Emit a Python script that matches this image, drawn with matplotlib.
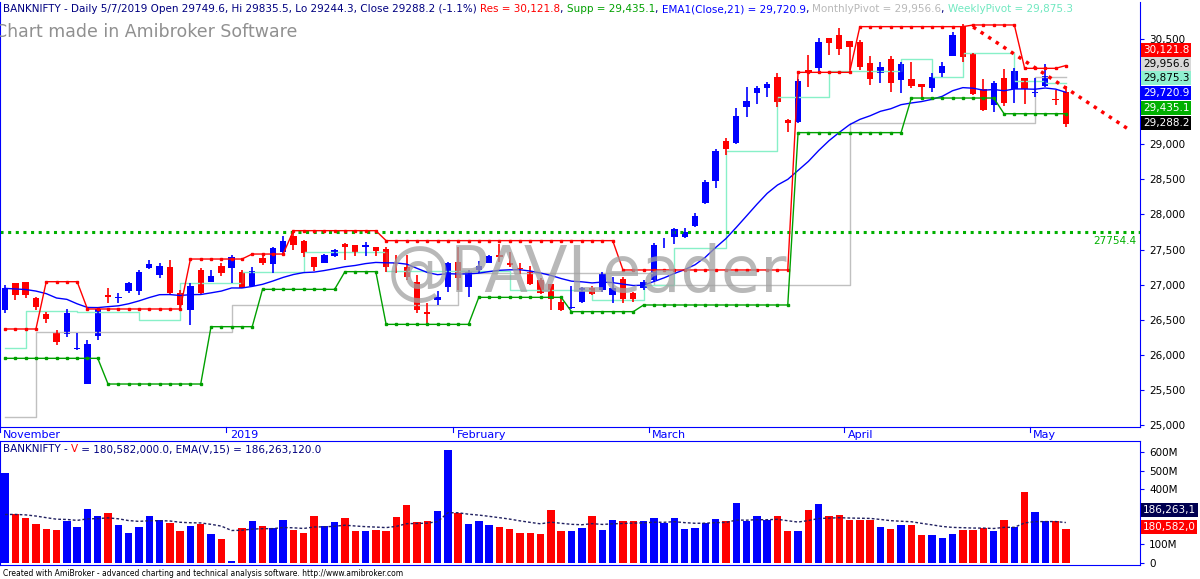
import matplotlib
matplotlib.use("Agg")
import matplotlib.pyplot as plt
import numpy as np
import pandas as pd

# ================================
# %% Data
# ++++++++++++++++++++++++++++++++

opens = [26639, 27019, 27042, 26805, 26582, 26330, 26296, 26083, 25584, 26273,
         26852, 26810, 26914, 26909, 27232, 27137, 27256, 26876, 26639, 27208,
         27042, 27265, 27232, 27185, 26980, 27375, 27294, 27470, 27700, 27620,
         27389, 27313, 27408, 27579, 27565, 27531, 27531, 27503, 27313, 27256,
         27042, 26615, 26781, 26971, 27327, 26971, 27208, 27313, 27422, 27304,
         27232, 27185, 27066, 27009, 26757, 26663, 26757, 26947, 26924, 26852,
         27076, 26876, 26947, 27066, 27620, 27674, 27683, 27836, 28158, 28481,
         29052, 29014, 29536, 29726, 29797, 29954, 29346, 29322, 30059, 30082,
         30510, 30557, 30476, 30462, 30163, 30021, 30210, 29916, 29926, 29859,
         29797, 30011, 30258, 30686, 30296, 29783, 29560, 29940, 29783, 29940,
         29735, 29831, 29640, 29749.6]
closes = [26947, 26852, 26852, 26686, 26506, 26187, 26600, 26092, 26154, 26653,
          26819, 26820, 27019, 27175, 27294, 27265, 26876, 26710, 26980, 26876,
          27123, 27161, 27398, 26947, 27199, 27303, 27517, 27620, 27560, 27446,
          27246, 27422, 27493, 27531, 27456, 27565, 27484, 27256, 27294, 27114,
          26639, 26582, 26829, 27304, 27090, 27185, 27265, 27408, 27389, 27280,
          27218, 27009, 26886, 26791, 26639, 26677, 26947, 26867, 27161, 26947,
          26791, 26791, 27042, 27565, 27627, 27788, 27755, 27978, 28467, 28909,
          28928, 29403, 29621, 29797, 29859, 29607, 29308, 29907, 30035, 30462,
          30448, 30353, 30381, 30106, 29926, 30106, 29869, 30144, 29831, 29812,
          29954, 30116, 30557, 30249, 29716, 29488, 29878, 29584, 30049, 29783,
          29750, 29973, 29631, 29288.2]
highs = [26995, 27019, 27042, 26829, 26615, 26354, 26648, 26306, 26211, 26686,
         26947, 26886, 27042, 27208, 27351, 27303, 27351, 26924, 27018, 27232,
         27208, 27303, 27422, 27208, 27256, 27422, 27541, 27700, 27750, 27640,
         27400, 27440, 27510, 27588, 27565, 27612, 27531, 27531, 27422, 27422,
         27137, 26734, 26914, 27327, 27531, 27208, 27341, 27422, 27579, 27470,
         27313, 27266, 27090, 27009, 26838, 26980, 26971, 26980, 27185, 27114,
         27114, 26900, 27066, 27588, 27660, 27802, 27802, 28025, 28491, 28928,
         29085, 29512, 29821, 29830, 29892, 30021, 29356, 29926, 30272, 30510,
         30510, 30652, 30476, 30486, 30258, 30177, 30258, 30177, 30177, 29859,
         30011, 30177, 30605, 30714, 30296, 29926, 29907, 30068, 30082, 29940,
         29940, 30144, 29773, 29835.5]
lows = [26591, 26781, 26805, 26639, 26449, 26140, 26258, 26068, 25584, 26211,
        26733, 26733, 26876, 26852, 27218, 27090, 26852, 26662, 26425, 26852,
        27042, 27123, 27028, 26947, 26971, 27280, 27171, 27420, 27500, 27400,
        27200, 27303, 27390, 27351, 27408, 27408, 27408, 27185, 27161, 27066,
        26591, 26449, 26710, 26900, 26924, 26829, 27161, 27303, 27327, 27256,
        27152, 26995, 26867, 26639, 26629, 26648, 26733, 26852, 26900, 26733,
        26733, 26757, 26924, 27042, 27517, 27579, 27660, 27817, 28149, 28372,
        28847, 29004, 29384, 29574, 29678, 29526, 29180, 29299, 29821, 30002,
        30272, 30272, 30059, 30059, 29845, 29878, 29750, 29735, 29797, 29678,
        29750, 29964, 30258, 30177, 29702, 29479, 29465, 29546, 29584, 29574,
        29669, 29821, 29560, 29244.3]
volume_m = [484, 265, 242, 209, 183, 178, 225, 195, 294, 251,
            270, 204, 161, 195, 251, 230, 216, 170, 199, 209,
            156, 131, 8, 187, 225, 201, 187, 234, 178, 161,
            251, 199, 220, 244, 170, 170, 178, 170, 246, 313,
            221, 228, 279, 609, 270, 209, 225, 204, 194, 182,
            161, 161, 156, 284, 170, 170, 190, 254, 178, 234,
            228, 228, 225, 244, 218, 244, 182, 190, 218, 239,
            225, 322, 227, 253, 230, 253, 173, 170, 287, 318,
            256, 260, 230, 234, 234, 195, 182, 204, 204, 152,
            149, 135, 157, 178, 175, 187, 170, 234, 195, 382,
            273, 225, 225, 180.6]
vol_ema_seed = 230  # EMA value carried in from before the visible window

# step indicators: (first bar, level)
res_steps = [(0, 26368), (4, 27042), (8, 26653), (18, 27365), (24, 27436),
             (28, 27769), (37, 27627), (60, 27209), (77, 30025), (83, 30676),
             (94, 30700), (99, 30082), (103, 30121.8)]
supp_steps = [(0, 25950), (10, 25584), (20, 26401), (25, 26933), (33, 27185),
              (37, 26434), (46, 26819), (55, 26615), (62, 26710), (77, 29166),
              (88, 29659), (97, 29435.1)]
monthly_steps = [(0, 25120), (3, 26330), (22, 26710), (44, 27170), (63, 26995),
                 (82, 29308), (100, 29956.6)]
weekly_steps = [(0, 26092), (2, 26629), (7, 26610), (13, 26500), (17, 27019),
                (23, 27185), (29, 27470), (37, 27200), (49, 26924), (57, 26780),
                (62, 26995), (65, 27517), (70, 28909), (75, 29669), (80, 30049),
                (87, 30210), (90, 29964), (93, 30306), (98, 29907), (101, 29875.3)]

months = ["November", "2019", "February", "March", "April", "May"]
month_bars = [0, 22, 44, 63, 82, 100]
trend_x = [94, 109.2]
trend_y = [30671, 29203]
level_line = 27754.4

n = len(closes)
idx = np.arange(n)


def steps(spec):
    out = np.zeros(n)
    for k, (start, val) in enumerate(spec):
        end = spec[k + 1][0] if k + 1 < len(spec) else n
        out[start:end] = val
    return out


df = pd.DataFrame({"o": opens, "h": highs, "l": lows, "c": closes, "v": volume_m})
ema21 = df["c"].ewm(span=21, adjust=False).mean().values
ema_v = pd.Series([vol_ema_seed] + volume_m).ewm(span=15, adjust=False).mean().values[1:]
up = df["c"] >= df["o"]
cols = np.where(up, "#0000ff", "#ff0000")

# ================================
# %% Figure
# ++++++++++++++++++++++++++++++++

W, H = 1200, 579
fig = plt.figure(figsize=(12, 5.79), dpi=100)
ax = fig.add_axes([0, 1 - 427 / H, 1140 / W, 425 / H])
axv = fig.add_axes([0, 1 - 565 / H, 1140 / W, 124 / H])

xlim = (-0.49, 110.2)
blue = "#0000ff"
for a in (ax, axv):
    a.set_xlim(*xlim)
    a.set_xticks([])
    a.yaxis.tick_right()
    a.tick_params(axis="y", colors=blue, labelcolor="black", labelsize=7.5, length=3)
    a.spines["top"].set_visible(False)
    for s in ("left", "right", "bottom"):
        a.spines[s].set_color(blue)

ax.set_ylim(25000 - 2 * 14.25, 30500 + 37 * 14.25)
ticks = list(range(25000, 30501, 500))
ax.set_yticks(ticks)
ax.set_yticklabels(["" if v in (29500, 30000) else f"{v:,}" for v in ticks])

# watermark + header
ax.text(0.515, 0.36, "@PAVLeader", transform=ax.transAxes, fontsize=46,
        color="#a0a0a0", alpha=0.75, ha="center", va="center")
fig.text(-0.004, 1 - 32 / H, "Chart made in Amibroker Software", fontsize=12.5,
         color="#909090", va="center")

# pivots
ax.step(idx, steps(monthly_steps), where="post", color="#c0c0c0", lw=1)
ax.step(idx, steps(weekly_steps), where="post", color="#88f0c8", lw=1)
ax.axhline(level_line, color="#00b000", ls=(0, (1, 1.5)), lw=2.2)
ax.text(109.8, level_line - 60, "27754.4", color="#00b000", fontsize=7.5, ha="right", va="top")

# candles
for i in idx:
    ax.vlines(i, lows[i], highs[i], color=cols[i], lw=1.2)
    lo, hi = sorted((opens[i], closes[i]))
    ax.bar(i, max(hi - lo, 8), bottom=lo, width=0.62, color=cols[i], lw=0)

ax.plot(idx, ema21, color="#0000ff", lw=1)
ax.plot(idx, steps(res_steps), color="#ff0000", lw=1, marker="s", ms=2)
ax.plot(idx, steps(supp_steps), color="#00a000", lw=1, marker="s", ms=2)
ax.plot(trend_x, trend_y, color="#ff0000", ls=(0, (1, 1.6)), lw=2.5)

renderer = fig.canvas.get_renderer()


def chain(parts, x0, y0, size=7.5):
    x = x0
    for t, c in parts:
        txt = fig.text(x / W, 1 - y0 / H, t, fontsize=size, color=c, va="center")
        x = txt.get_window_extent(renderer).x1


chain([("BANKNIFTY - Daily 5/7/2019 Open 29749.6, Hi 29835.5, Lo 29244.3, Close 29288.2 (-1.1%) ", "#000080"),
       ("Res = 30,121.8", "#ff0000"), (", ", "#000080"), ("Supp = 29,435.1", "#00a000"),
       (", ", "#000080"), ("EMA1(Close,21) = 29,720.9", "#0000ff"), (", ", "#000080"),
       ("MonthlyPivot = 29,956.6", "#b8b8b8"), (", ", "#000080"),
       ("WeeklyPivot = 29,875.3", "#70e8c0")], 3, 9)
chain([("BANKNIFTY - ", "#000080"), ("V", "#ff0000"),
       (" = 180,582,000.0, EMA(V,15) = 186,263,120.0", "#000080")], 3, 449)

# value boxes on the right axis (stacked so they do not overlap)
boxes = [(50, "30,121.8", "#ff0000", "white"),
         (64, "29,956.6", "#d8d8d8", "black"),
         (78, "29,875.3", "#90f0d0", "black"),
         (93, "29,720.9", "#0000ff", "white"),
         (108, "29,435.1", "#00b000", "white"),
         (123, "29,288.2", "black", "white")]
for ypx, t, bg, fg in boxes:
    fig.text(1143 / W, 1 - ypx / H, t, fontsize=7.5, color=fg, va="center",
             bbox=dict(boxstyle="square,pad=0.15", fc=bg, ec="none"))

# month labels
for b, m in zip(month_bars, months):
    ax.annotate(m, xy=(b - 0.3, 0), xycoords=("data", "axes fraction"), xytext=(1, -2),
                textcoords="offset points", fontsize=8, color=blue, va="top",
                annotation_clip=False)
    ax.plot([b - 0.5, b - 0.5], [0, -0.012], color=blue, lw=0.8,
            transform=ax.get_xaxis_transform(), clip_on=False)

# volume panel
axv.set_ylim(-12, 660)
axv.bar(idx, volume_m, width=0.72, color=cols, lw=0)
axv.plot(idx, ema_v, color="#202060", ls=(0, (2, 1.5)), lw=1)
axv.set_yticks([0, 100, 200, 300, 400, 500, 600])
axv.set_yticklabels(["0", "100M", "", "300M", "400M", "500M", "600M"])
axv.spines["top"].set_visible(True)
axv.spines["top"].set_color(blue)
for ypx, t, bg in [(510, "186,263,1", "#000050"), (527, "180,582,0", "#ff0000")]:
    fig.text(1143 / W, 1 - ypx / H, t, fontsize=7.5, color="white", va="center",
             bbox=dict(boxstyle="square,pad=0.15", fc=bg, ec="none"))

fig.text(3 / W, 1 - 573 / H, "Created with AmiBroker - advanced charting and technical analysis software. http://www.amibroker.com",
         fontsize=5.5, color="black", va="center")

fig.savefig("out.png", dpi=100)
